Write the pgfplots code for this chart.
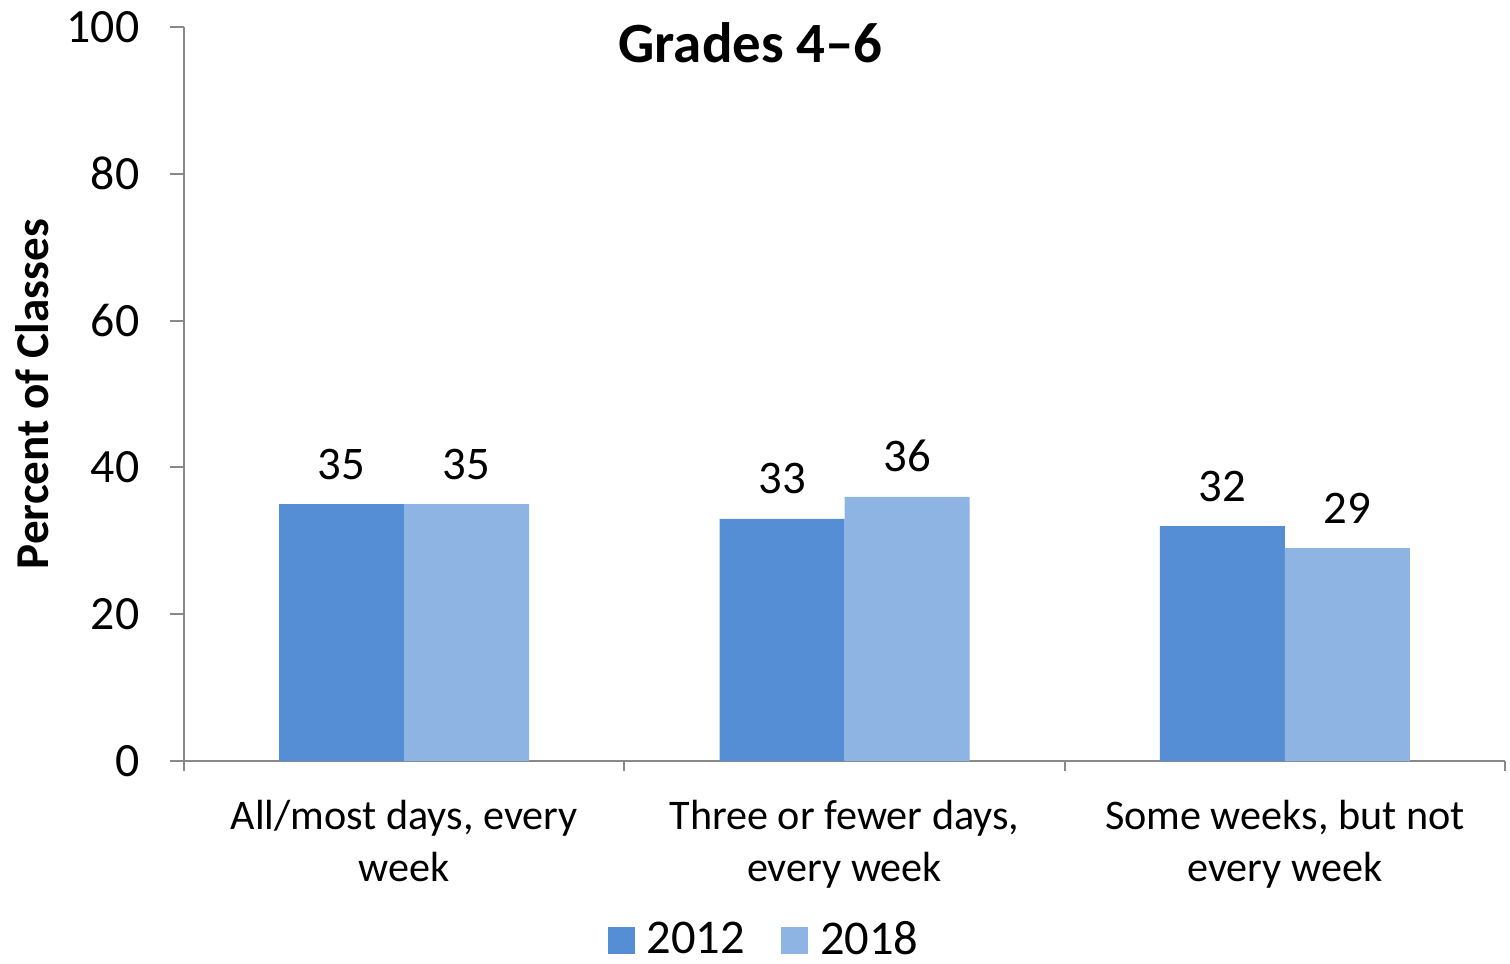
\documentclass[border=0pt]{standalone}
\usepackage{fontspec}
\setmainfont{Carlito}
\usepackage{pgfplots}
\pgfplotsset{compat=1.18}
\definecolor{c2012}{RGB}{85,142,213}
\definecolor{c2018}{RGB}{142,180,227}
\definecolor{axgray}{RGB}{137,137,137}

\begin{document}
\begin{tikzpicture}
\begin{axis}[
  scale only axis, width=132.1mm, height=73.4mm,
  ybar=0pt, bar width=12.5mm,
  xmin=-0.5, xmax=2.5, ymin=0, ymax=100,
  axis x line=bottom, axis y line=left,
  axis line style={-, axgray, line width=0.2mm},
  tick style={axgray, line width=0.2mm},
  tick align=outside,
  ytick={0,20,...,100},
  xtick={0,1,2},
  xticklabels={{All/most days, every\\week},{Three or fewer days,\\every week},{Some weeks, but not\\every week}},
  major x tick style={draw=none},
  minor xtick={-0.5,0.5,1.5,2.5},
  major tick length=1.4mm, minor tick length=1mm,
  /pgf/number format/assume math mode=true,
  yticklabel style={font=\fontsize{13.6}{15}\selectfont, inner sep=0pt, xshift=-3.0mm},
  xticklabel style={font=\fontsize{12}{14.8}\selectfont, align=center, inner sep=0pt, yshift=-2.4mm},
  nodes near coords,
  every node near coord/.append style={font=\fontsize{13.3}{15}\selectfont, inner sep=0pt, yshift=2.4mm, text=black},
  legend style={at={(rel axis cs:0.441,-0.245)}, anchor=center, draw=none, fill=none,
    legend columns=2, font=\fontsize{13.8}{15}\selectfont,
    /tikz/every odd column/.append style={column sep=0.5mm},
    /tikz/every even column/.append style={column sep=2.9mm}},
  legend image code/.code={\fill[#1] (0mm,-1.35mm) rectangle (2.7mm,1.35mm);},
  clip=false,
]
\addplot[fill=c2012, draw=none] coordinates {(0,35) (1,33) (2,32)};
\addplot[fill=c2018, draw=none] coordinates {(0,35) (1,36) (2,29)};
\legend{2012,2018}
\node[font=\bfseries\fontsize{16.2}{19}\selectfont, anchor=base] at (rel axis cs:0.429,0.952) {Grades 4--6};
\end{axis}
\node[rotate=90, font=\bfseries\fontsize{13.4}{16}\selectfont] at (-15.2mm,36.7mm) {Percent of Classes};
\pgfresetboundingbox
\useasboundingbox (-18.4mm,-20.2mm) rectangle (132.6mm,76.1mm);
\end{tikzpicture}
\end{document}
